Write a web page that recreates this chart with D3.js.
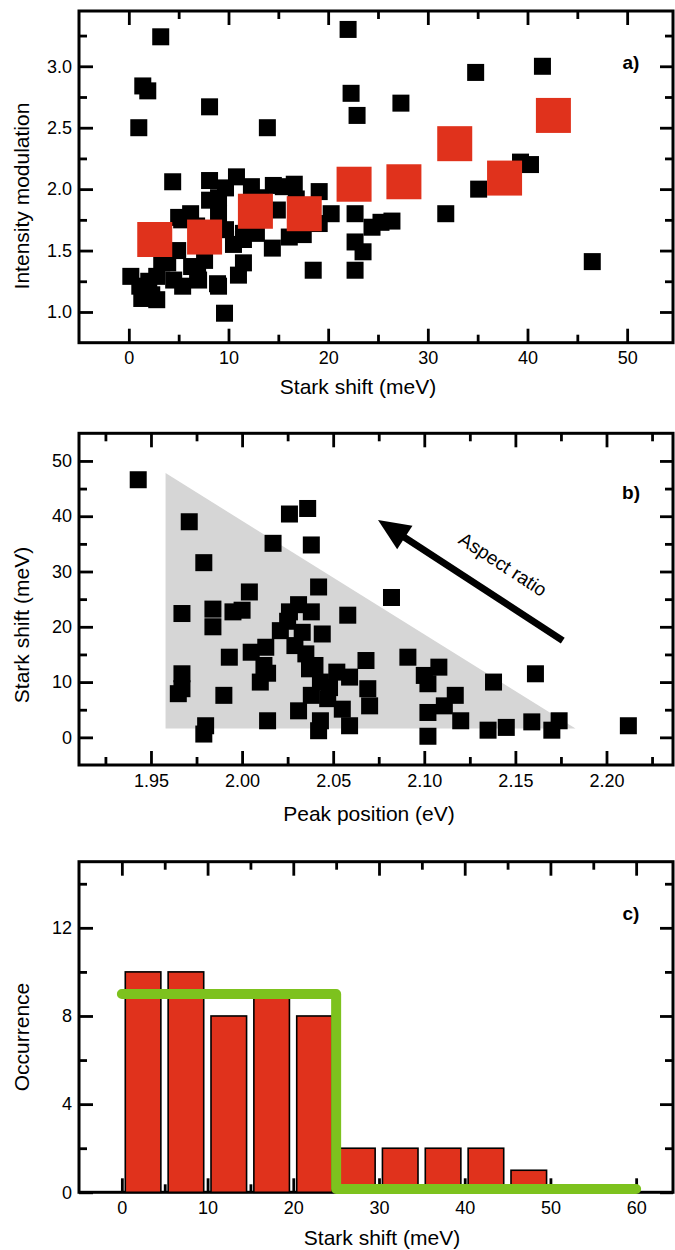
<!DOCTYPE html>
<html>
<head>
<meta charset="utf-8">
<script src="https://cdn.jsdelivr.net/npm/d3@7"></script>
<style>
  body { margin: 0; background: white; }
  text { font-family: "Liberation Sans", Arial, sans-serif; fill: #000; }
</style>
</head>
<body>
<script>
// ---- panel a: intensity modulation vs stark shift
const aBlackX = [3.2, 22.0, 1.4, 1.9, 8.1, 1.0, 13.9, 22.3, 22.9, 27.3, 34.8, 41.5, 40.3, 39.3, 4.4, 8.1, 10.8, 9.7, 12.3, 14.5, 16.6, 15.5, 19.1, 35.1,
  8.1, 5.3, 6.2, 9.0, 9.7, 11.5, 11.5, 12.8, 14.9, 16.1, 14.4, 11.5, 11.0, 18.5, 19.1, 20.3, 22.7, 22.7, 23.5, 22.7, 24.4, 25.3, 26.4, 31.8, 46.5,
  0.2, 1.1, 2.0, 2.8, 1.3, 2.8, 4.5, 5.4, 6.3, 6.9, 8.9, 9.0, 9.6, 3.3, 5.0, 7.6, 7.0, 1.5, 2.3, 4.9, 3.9,
  13.2, 16.8, 9.0, 6.8, 17.5, 10.5];
const aBlackY = [3.24, 3.30, 2.84, 2.80, 2.67, 2.50, 2.50, 2.78, 2.60, 2.70, 2.95, 3.00, 2.20, 2.22, 2.06, 2.07, 2.10, 2.01, 2.02, 2.03, 2.04, 2.02, 1.98, 2.00,
  1.91, 1.75, 1.80, 1.80, 1.67, 1.64, 1.59, 1.64, 1.83, 1.61, 1.52, 1.40, 1.30, 1.34, 1.72, 1.80, 1.80, 1.57, 1.49, 1.34, 1.69, 1.73, 1.74, 1.80, 1.41,
  1.29, 1.21, 1.25, 1.10, 1.11, 1.29, 1.26, 1.21, 1.37, 1.29, 1.23, 1.21, 0.99, 1.40, 1.77, 1.42, 1.26, 1.16, 1.14, 1.50, 1.40,
  1.93, 1.92, 1.93, 1.70, 1.63, 1.55];
const aRedX = [2.6, 7.6, 12.7, 17.6, 22.6, 27.6, 32.7, 37.7, 42.6];
const aRedY = [1.59, 1.61, 1.82, 1.80, 2.04, 2.06, 2.37, 2.09, 2.60];

// ---- panel b: stark shift vs peak position
const bX = [1.943, 1.971, 1.979, 2.017, 2.026, 2.036, 2.038, 2.042, 2.004, 2.082, 1.967, 1.984, 1.984, 1.995, 2.026, 2.031, 2.038, 2.058,
  2.021, 2.033, 2.044, 2.029, 1.993, 2.005, 2.013, 2.035, 2.068, 2.091, 2.108, 1.967, 1.967, 1.965, 1.990, 2.010, 2.012, 2.014, 2.037,
  2.052, 2.043, 2.059, 2.069, 2.070, 2.038, 2.047, 2.031, 2.055, 2.042, 2.043, 2.059, 2.014, 1.980, 1.979, 2.100, 2.102, 2.102, 2.111,
  2.117, 2.120, 2.102, 2.135, 2.145, 2.138, 2.161, 2.159, 2.170, 2.174, 2.212, 2.048, 2.040, 2.025, 2.000];
const bY = [46.6, 39.0, 31.6, 35.1, 40.4, 41.4, 34.8, 27.2, 26.3, 25.3, 22.4, 23.2, 20.0, 22.7, 22.7, 24.0, 22.7, 22.1,
  19.3, 19.0, 18.7, 16.6, 14.5, 15.4, 16.3, 15.1, 13.9, 14.5, 12.7, 11.5, 8.8, 7.9, 7.6, 10.0, 13.0, 11.6, 12.4,
  11.8, 10.0, 10.9, 8.8, 5.7, 7.6, 7.0, 4.8, 5.1, 1.2, 3.0, 2.1, 3.0, 2.1, 0.6, 11.2, 9.7, 4.5, 5.7,
  7.6, 3.0, 0.2, 1.3, 1.8, 10.0, 11.5, 2.8, 1.3, 3.0, 2.1, 9.0, 13.0, 21.0, 23.0];
const triX = [1.958, 1.958, 2.183];
const triY = [47.8, 1.6, 1.6];
const arrowX = [2.176, 2.0746];   // tail, tip
const arrowY = [17.5, 39.3];

// ---- panel c: histogram of stark shift
const histBins = [0, 5, 10, 15, 20, 25, 30, 35, 40, 45];
const histCounts = [10, 10, 8, 9, 8, 2, 2, 2, 2, 1];
const stepX = [0, 25, 25, 60];
const stepY = [9, 9, 0.15, 0.15];

const svg = d3.select('body').append('svg').attr('width', 675).attr('height', 1250);
svg.append('rect').attr('width', 675).attr('height', 1250).attr('fill', 'white');

const L = 79, R = 673;

function makePanel(p) {
  const x = d3.scaleLinear().domain(p.xd).range([L, R]);
  const y = d3.scaleLinear().domain(p.yd).range([p.bottom, p.top]);
  const g = svg.append('g');
  const style = sel => {
    sel.select('.domain').remove();
    sel.selectAll('line').attr('stroke', '#000').attr('stroke-width', 2.8);
    sel.selectAll('text').attr('font-size', 18);
  };
  const add = (axis, tx, ty) => g.append('g').attr('transform', `translate(${tx},${ty})`).call(axis).call(style);
  add(d3.axisBottom(x).tickValues(p.xMajor).tickSize(-14).tickPadding(9).tickFormat(p.xFmt), 0, p.bottom);
  add(d3.axisBottom(x).tickValues(p.xMinor).tickSize(-8).tickFormat(''), 0, p.bottom);
  add(d3.axisTop(x).tickValues(p.xMajor).tickSize(-14).tickFormat(''), 0, p.top);
  add(d3.axisTop(x).tickValues(p.xMinor).tickSize(-8).tickFormat(''), 0, p.top);
  add(d3.axisLeft(y).tickValues(p.yMajor).tickSize(-14).tickPadding(7).tickFormat(p.yFmt), L, 0);
  add(d3.axisLeft(y).tickValues(p.yMinor).tickSize(-8).tickFormat(''), L, 0);
  add(d3.axisRight(y).tickValues(p.yMajor).tickSize(-13).tickFormat(''), R, 0);
  add(d3.axisRight(y).tickValues(p.yMinor).tickSize(-8).tickFormat(''), R, 0);
  g.append('rect').attr('x', L).attr('y', p.top).attr('width', R - L).attr('height', p.bottom - p.top)
    .attr('fill', 'none').attr('stroke', '#000').attr('stroke-width', 3);

  g.append('text').attr('x', p.xTitleX).attr('y', p.xTitleY).attr('text-anchor', 'middle')
    .attr('font-size', 21).text(p.xTitle);
  g.append('text').attr('transform', `translate(29,${p.yTitleY}) rotate(-90)`).attr('text-anchor', 'middle')
    .attr('font-size', 21).text(p.yTitle);
  g.append('text').attr('x', 631).attr('y', p.tagY).attr('text-anchor', 'middle')
    .attr('font-size', 19).attr('font-weight', 'bold').text(p.tag);
  return { g, x, y };
}

function squares(P, xs, ys, size, color) {
  P.g.append('g').selectAll('rect').data(xs.map((d, i) => [d, ys[i]])).join('rect')
    .attr('x', d => P.x(d[0]) - size / 2).attr('y', d => P.y(d[1]) - size / 2)
    .attr('width', size).attr('height', size).attr('fill', color);
}

// panel a
const A = makePanel({
  top: 11, bottom: 342.7, xd: [-5, 54.6], yd: [0.75, 3.45],
  xMajor: [0, 10, 20, 30, 40, 50], xMinor: [5, 15, 25, 35, 45],
  yMajor: [1.0, 1.5, 2.0, 2.5, 3.0], yMinor: [1.25, 1.75, 2.25, 2.75, 3.25],
  xFmt: d3.format('d'), yFmt: d3.format('.1f'),
  xTitle: 'Stark shift (meV)', xTitleX: 358, xTitleY: 394,
  yTitle: 'Intensity modulation', yTitleY: 196, tag: 'a)', tagY: 69
});
squares(A, aBlackX, aBlackY, 17, '#000');
squares(A, aRedX, aRedY, 35, '#e0321c');

// panel b
const B = makePanel({
  top: 433.3, bottom: 765, xd: [1.9105, 2.2365], yd: [-5, 55],
  xMajor: [1.95, 2.00, 2.05, 2.10, 2.15, 2.20], xMinor: [1.925, 1.975, 2.025, 2.075, 2.125, 2.175, 2.225],
  yMajor: [0, 10, 20, 30, 40, 50], yMinor: [5, 15, 25, 35, 45],
  xFmt: d3.format('.2f'), yFmt: d3.format('d'),
  xTitle: 'Peak position (eV)', xTitleX: 369, xTitleY: 821,
  yTitle: 'Stark shift (meV)', yTitleY: 625, tag: 'b)', tagY: 499
});
B.g.insert('path', ':first-child')
  .attr('d', d3.line()(triX.map((d, i) => [B.x(d), B.y(triY[i])])) + 'Z')
  .attr('fill', '#d6d6d6');
squares(B, bX, bY, 17, '#000');
{
  const tx = B.x(arrowX[0]), ty = B.y(arrowY[0]);
  const hx = B.x(arrowX[1]), hy = B.y(arrowY[1]);
  const ang = Math.atan2(hy - ty, hx - tx);
  const headLen = 32, headW = 14;
  const bx = hx - headLen * Math.cos(ang), by = hy - headLen * Math.sin(ang);
  B.g.append('line').attr('x1', tx).attr('y1', ty).attr('x2', bx + 4 * Math.cos(ang)).attr('y2', by + 4 * Math.sin(ang))
    .attr('stroke', '#000').attr('stroke-width', 7);
  const nx = -Math.sin(ang), ny = Math.cos(ang);
  B.g.append('path').attr('d', `M${hx},${hy}L${bx + headW * nx},${by + headW * ny}L${bx - headW * nx},${by - headW * ny}Z`)
    .attr('fill', '#000');
  const deg = ang * 180 / Math.PI + 180;
  B.g.append('text').attr('transform', `translate(${B.x(2.1432)},${B.y(31.3)}) rotate(${deg})`)
    .attr('text-anchor', 'middle').attr('dy', '0.35em').attr('font-size', 19).text('Aspect ratio');
}

// panel c
const C = makePanel({
  top: 861.7, bottom: 1192.3, xd: [-5, 64.3], yd: [0, 15],
  xMajor: [0, 10, 20, 30, 40, 50, 60], xMinor: [5, 15, 25, 35, 45, 55],
  yMajor: [0, 4, 8, 12], yMinor: [2, 6, 10, 14],
  xFmt: d3.format('d'), yFmt: d3.format('d'),
  xTitle: 'Stark shift (meV)', xTitleX: 382, xTitleY: 1245,
  yTitle: 'Occurrence', yTitleY: 1037, tag: 'c)', tagY: 920
});
C.g.append('g').selectAll('rect').data(histBins.map((b, i) => [b, histCounts[i]])).join('rect')
  .attr('x', d => C.x(d[0] + 0.4)).attr('y', d => C.y(d[1]))
  .attr('width', d => C.x(d[0] + 4.55) - C.x(d[0] + 0.4)).attr('height', d => C.y(0) - C.y(d[1]))
  .attr('fill', '#e0321c').attr('stroke', '#000').attr('stroke-width', 1.6);
C.g.append('path')
  .attr('d', d3.line()(stepX.map((d, i) => [C.x(d), C.y(stepY[i])])))
  .attr('fill', 'none').attr('stroke', '#7dc21e').attr('stroke-width', 10)
  .attr('stroke-linecap', 'round').attr('stroke-linejoin', 'round');
</script>
</body>
</html>
